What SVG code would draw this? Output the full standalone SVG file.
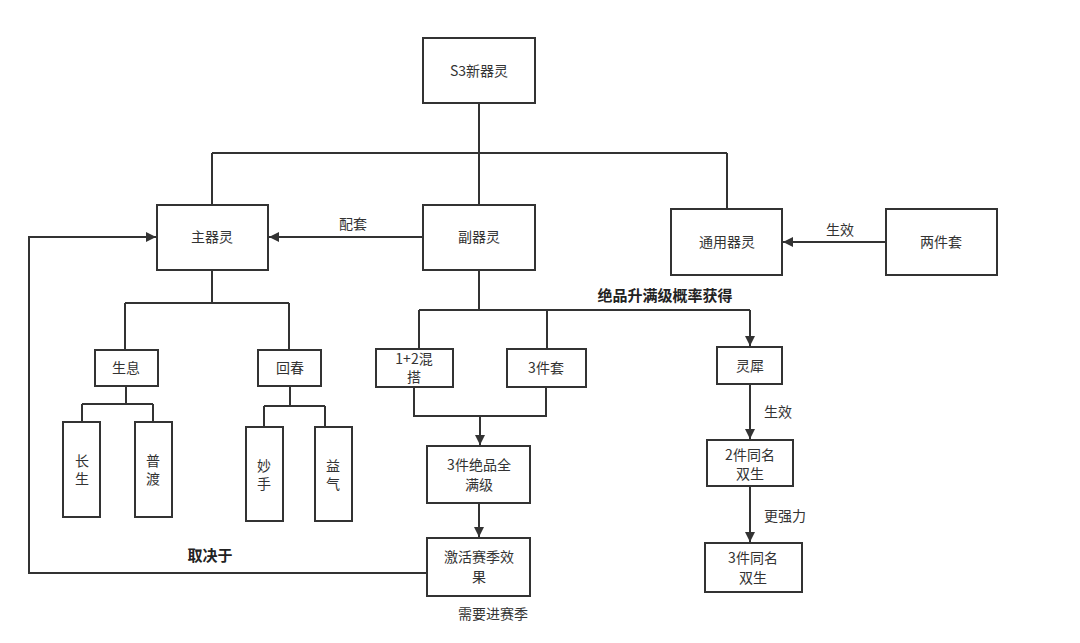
<svg xmlns="http://www.w3.org/2000/svg" width="1080" height="643" viewBox="0 0 1080 643">
<defs>
<marker id="arr" viewBox="0 0 10 10" refX="10" refY="5" markerWidth="10" markerHeight="10" markerUnits="userSpaceOnUse" orient="auto">
<path d="M0,0 L10,5 L0,10 Z" fill="#333"/>
</marker>
</defs>
<style>
.box{fill:#fff;stroke:#333;stroke-width:2}
.t{font-family:"Noto Sans CJK SC","Microsoft YaHei",sans-serif;font-size:14px;fill:#333;text-anchor:middle}
.lbl{font-family:"Noto Sans CJK SC",sans-serif;font-size:14px;fill:#333;text-anchor:middle}
.b{font-weight:bold;font-size:15px;fill:#222}
.c{fill:none;stroke:#333;stroke-width:2}
</style>
<rect width="1080" height="643" fill="#fff"/>
<g id="connectors">
<path class="c" d="M479,103 V153 M212,153 H727 M212,153 V205 M479,153 V205 M727,153 V209"/>
<path class="c" d="M886,242 H783" marker-end="url(#arr)"/>
<path class="c" d="M423,237 H269" marker-end="url(#arr)"/>
<path class="c" d="M427,573 H29 V237 H156" marker-end="url(#arr)"/>
<path class="c" d="M212,270 V303 M125,303 H289 M125,303 V350 M289,303 V350"/>
<path class="c" d="M126,386 V404 M82,404 H153 M82,404 V422 M153,404 V422"/>
<path class="c" d="M290,386 V406 M264,406 H325 M264,406 V427 M325,406 V427"/>
<path class="c" d="M479,270 V310 M419,310 H750 M419,310 V349 M547,310 V349"/>
<path class="c" d="M750,310 V346" marker-end="url(#arr)"/>
<path class="c" d="M414,387 V416 H546 V387"/>
<path class="c" d="M480,416 V445" marker-end="url(#arr)"/>
<path class="c" d="M479,503 V537" marker-end="url(#arr)"/>
<path class="c" d="M750,384 V439" marker-end="url(#arr)"/>
<path class="c" d="M750,486 V542" marker-end="url(#arr)"/>
<text class="lbl" x="353" y="229">配套</text>
<text class="lbl" x="840" y="235">生效</text>
<text class="lbl b" x="210" y="561">取决于</text>
<text class="lbl b" x="665" y="301">绝品升满级概率获得</text>
<text class="lbl" x="493" y="619">需要进赛季</text>
<text class="lbl" x="778" y="417">生效</text>
<text class="lbl" x="785" y="521">更强力</text>
</g>
<g id="n-s3"><rect class="box" x="423" y="38" width="112" height="65"/><text class="t" x="479" y="76">S3新器灵</text></g>
<g id="n-main"><rect class="box" x="157" y="205" width="111" height="65"/><text class="t" x="212" y="242">主器灵</text></g>
<g id="n-sub"><rect class="box" x="423" y="205" width="112" height="65"/><text class="t" x="479" y="242">副器灵</text></g>
<g id="n-common"><rect class="box" x="671" y="209" width="111" height="66"/><text class="t" x="727" y="247">通用器灵</text></g>
<g id="n-two"><rect class="box" x="886" y="209" width="111" height="66"/><text class="t" x="941" y="247">两件套</text></g>
<g id="n-shengxi"><rect class="box" x="95" y="350" width="63" height="36"/><text class="t" x="126" y="373">生息</text></g>
<g id="n-huichun"><rect class="box" x="258" y="350" width="63" height="36"/><text class="t" x="290" y="373">回春</text></g>
<g id="n-changsheng"><rect class="box" x="63" y="422" width="37" height="95"/><text class="t" x="82" y="466">长</text><text class="t" x="82" y="484">生</text></g>
<g id="n-pudu"><rect class="box" x="135" y="422" width="37" height="95"/><text class="t" x="153" y="466">普</text><text class="t" x="153" y="484">渡</text></g>
<g id="n-miaoshou"><rect class="box" x="246" y="427" width="37" height="94"/><text class="t" x="264" y="471">妙</text><text class="t" x="264" y="489">手</text></g>
<g id="n-yiqi"><rect class="box" x="315" y="427" width="37" height="94"/><text class="t" x="333" y="471">益</text><text class="t" x="333" y="489">气</text></g>
<g id="n-mix"><rect class="box" x="376" y="349" width="77" height="38"/><text class="t" x="414" y="364">1+2混</text><text class="t" x="414" y="382">搭</text></g>
<g id="n-three"><rect class="box" x="507" y="349" width="79" height="38"/><text class="t" x="546" y="373">3件套</text></g>
<g id="n-full"><rect class="box" x="427" y="446" width="103" height="57"/><text class="t" x="479" y="470">3件绝品全</text><text class="t" x="479" y="490">满级</text></g>
<g id="n-activate"><rect class="box" x="427" y="538" width="103" height="58"/><text class="t" x="479" y="562">激活赛季效</text><text class="t" x="479" y="582">果</text></g>
<g id="n-lingxi"><rect class="box" x="717" y="347" width="65" height="37"/><text class="t" x="750" y="371">灵犀</text></g>
<g id="n-two-twin"><rect class="box" x="707" y="440" width="86" height="46"/><text class="t" x="750" y="460">2件同名</text><text class="t" x="750" y="479">双生</text></g>
<g id="n-three-twin"><rect class="box" x="705" y="543" width="97" height="49"/><text class="t" x="753" y="563">3件同名</text><text class="t" x="753" y="583">双生</text></g>
</svg>
